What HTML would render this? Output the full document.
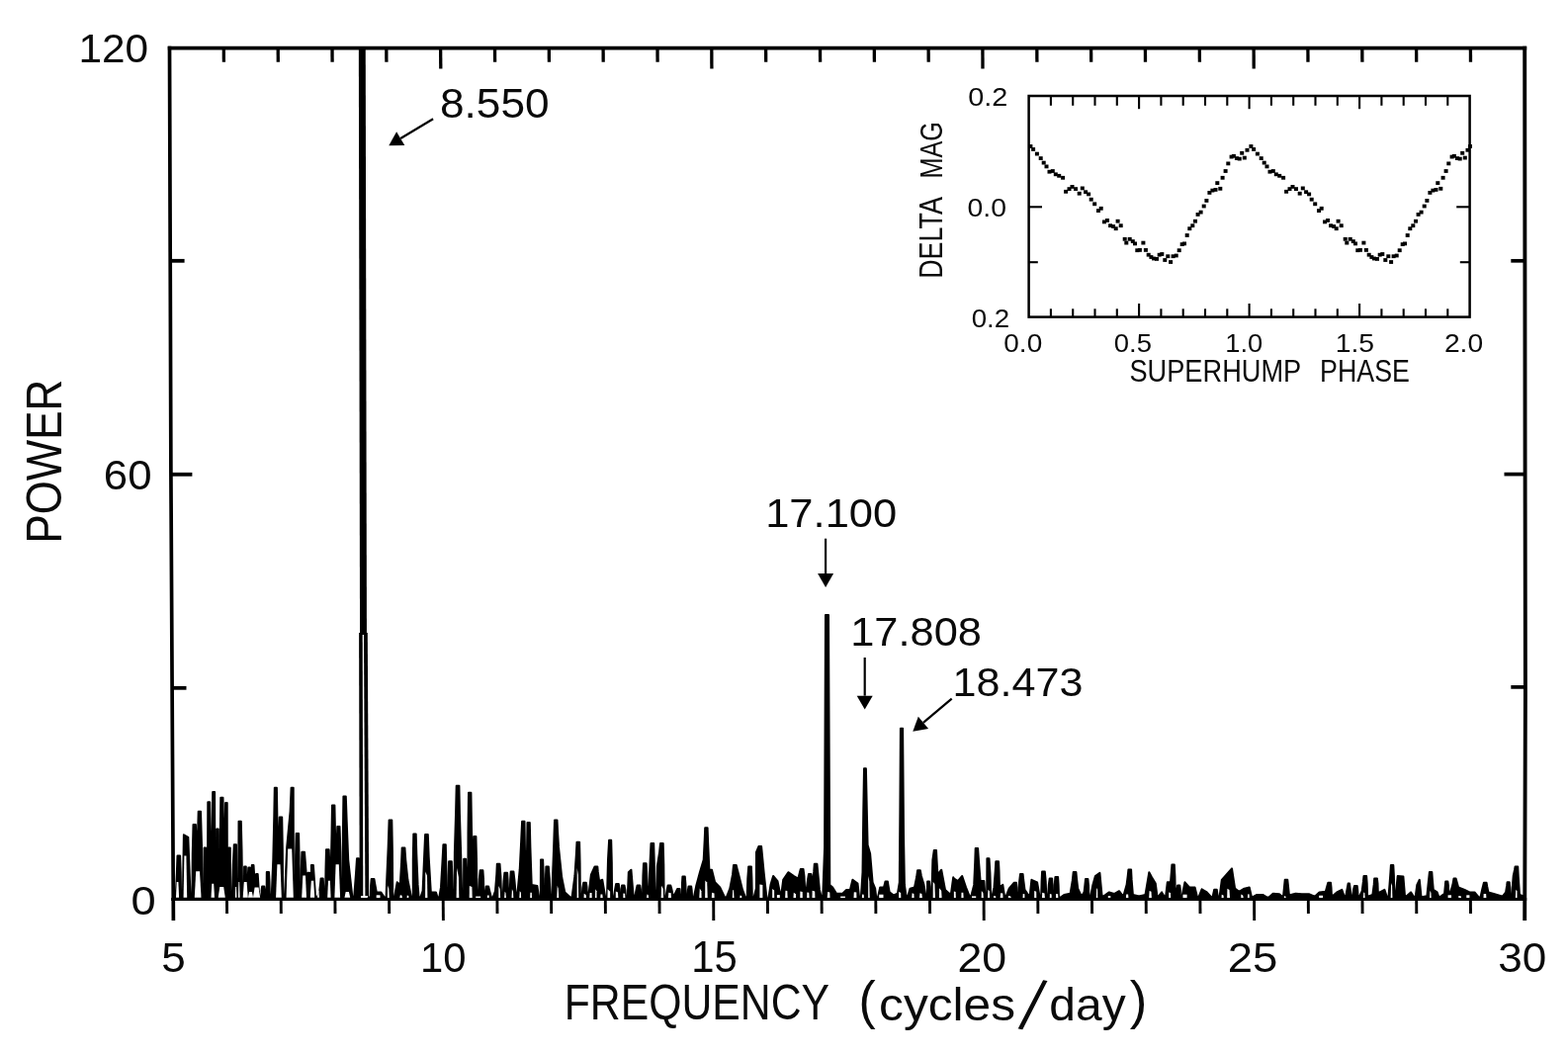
<!DOCTYPE html>
<html lang="en"><head><meta charset="utf-8"><title>Power spectrum</title>
<style>html,body{margin:0;padding:0;background:#fff}svg{display:block}text{font-family:"Liberation Sans",sans-serif;fill:#0a0a0a}</style></head><body>
<svg width="1586" height="1067" viewBox="0 0 1586 1067">
<rect width="1586" height="1067" fill="#fff"/>
<g stroke="#000" stroke-linecap="butt" fill="none">
<line x1="169.8" y1="48.6" x2="1544.2" y2="48.6" stroke-width="3.9"/>
<line x1="173.2" y1="909.5" x2="1544.2" y2="909.5" stroke-width="3.2"/>
<polyline points="171.5,46.7 172.9,478 175.4,931" stroke-width="3.7"/>
<polyline points="1542.2,46.7 1542.6,478 1542.9,700 1542.2,931" stroke-width="3.9"/>
<line x1="226.3" y1="48" x2="226.4" y2="62.8" stroke-width="3.3"/>
<line x1="281.2" y1="48" x2="281.3" y2="62.8" stroke-width="3.3"/>
<line x1="336.0" y1="48" x2="336.1" y2="62.8" stroke-width="3.3"/>
<line x1="390.8" y1="48" x2="390.9" y2="62.8" stroke-width="3.3"/>
<line x1="445.6" y1="48" x2="445.8" y2="69.6" stroke-width="3.3"/>
<line x1="500.5" y1="48" x2="500.6" y2="62.8" stroke-width="3.3"/>
<line x1="555.3" y1="48" x2="555.4" y2="62.8" stroke-width="3.3"/>
<line x1="610.1" y1="48" x2="610.2" y2="62.8" stroke-width="3.3"/>
<line x1="665.0" y1="48" x2="665.1" y2="62.8" stroke-width="3.3"/>
<line x1="719.8" y1="48" x2="719.9" y2="69.6" stroke-width="3.3"/>
<line x1="774.6" y1="48" x2="774.7" y2="62.8" stroke-width="3.3"/>
<line x1="829.5" y1="48" x2="829.6" y2="62.8" stroke-width="3.3"/>
<line x1="884.3" y1="48" x2="884.4" y2="62.8" stroke-width="3.3"/>
<line x1="939.1" y1="48" x2="939.2" y2="62.8" stroke-width="3.3"/>
<line x1="993.9" y1="48" x2="994.0" y2="69.6" stroke-width="3.3"/>
<line x1="1048.8" y1="48" x2="1048.9" y2="62.8" stroke-width="3.3"/>
<line x1="1103.6" y1="48" x2="1103.7" y2="62.8" stroke-width="3.3"/>
<line x1="1158.4" y1="48" x2="1158.5" y2="62.8" stroke-width="3.3"/>
<line x1="1213.3" y1="48" x2="1213.4" y2="62.8" stroke-width="3.3"/>
<line x1="1268.1" y1="48" x2="1268.2" y2="69.6" stroke-width="3.3"/>
<line x1="1322.9" y1="48" x2="1323.0" y2="62.8" stroke-width="3.3"/>
<line x1="1377.8" y1="48" x2="1377.9" y2="62.8" stroke-width="3.3"/>
<line x1="1432.6" y1="48" x2="1432.7" y2="62.8" stroke-width="3.3"/>
<line x1="1487.4" y1="48" x2="1487.5" y2="62.8" stroke-width="3.3"/>
<line x1="229.5" y1="910" x2="229.6" y2="924.0" stroke-width="2.9"/>
<line x1="284.2" y1="910" x2="284.3" y2="924.0" stroke-width="2.9"/>
<line x1="338.9" y1="910" x2="339.0" y2="924.0" stroke-width="2.9"/>
<line x1="393.6" y1="910" x2="393.7" y2="924.0" stroke-width="2.9"/>
<line x1="448.2" y1="910" x2="448.4" y2="931.0" stroke-width="2.9"/>
<line x1="502.9" y1="910" x2="503.0" y2="924.0" stroke-width="2.9"/>
<line x1="557.6" y1="910" x2="557.7" y2="924.0" stroke-width="2.9"/>
<line x1="612.3" y1="910" x2="612.4" y2="924.0" stroke-width="2.9"/>
<line x1="667.0" y1="910" x2="667.1" y2="924.0" stroke-width="2.9"/>
<line x1="721.7" y1="910" x2="721.8" y2="931.0" stroke-width="2.9"/>
<line x1="776.4" y1="910" x2="776.5" y2="924.0" stroke-width="2.9"/>
<line x1="831.1" y1="910" x2="831.2" y2="924.0" stroke-width="2.9"/>
<line x1="885.8" y1="910" x2="885.9" y2="924.0" stroke-width="2.9"/>
<line x1="940.5" y1="910" x2="940.6" y2="924.0" stroke-width="2.9"/>
<line x1="995.1" y1="910" x2="995.2" y2="931.0" stroke-width="2.9"/>
<line x1="1049.8" y1="910" x2="1049.9" y2="924.0" stroke-width="2.9"/>
<line x1="1104.5" y1="910" x2="1104.6" y2="924.0" stroke-width="2.9"/>
<line x1="1159.2" y1="910" x2="1159.3" y2="924.0" stroke-width="2.9"/>
<line x1="1213.9" y1="910" x2="1214.0" y2="924.0" stroke-width="2.9"/>
<line x1="1268.6" y1="910" x2="1268.7" y2="931.0" stroke-width="2.9"/>
<line x1="1323.3" y1="910" x2="1323.4" y2="924.0" stroke-width="2.9"/>
<line x1="1378.0" y1="910" x2="1378.1" y2="924.0" stroke-width="2.9"/>
<line x1="1432.7" y1="910" x2="1432.8" y2="924.0" stroke-width="2.9"/>
<line x1="1487.4" y1="910" x2="1487.5" y2="924.0" stroke-width="2.9"/>
<line x1="172.4" y1="263.8" x2="186.6" y2="263.8" stroke-width="3.8"/>
<line x1="1528.3" y1="263.8" x2="1542.5" y2="263.8" stroke-width="3.7"/>
<line x1="173.4" y1="479.8" x2="194.4" y2="479.8" stroke-width="3.8"/>
<line x1="1521.5" y1="479.6" x2="1542.5" y2="479.6" stroke-width="3.7"/>
<line x1="174.3" y1="695.8" x2="188.5" y2="695.8" stroke-width="3.8"/>
<line x1="1528.3" y1="694.9" x2="1542.5" y2="694.9" stroke-width="3.7"/>
</g>
<polygon points="175.0,905.0 177.7,907.5 178.9,882.1 179.5,865.6 182.1,865.6 182.7,882.1 183.1,907.5 184.9,907.5 185.9,844.3 190.3,846.8 192.6,907.5 194.4,907.5 194.8,863.1 195.5,834.0 197.9,834.0 198.4,847.4 199.3,868.3 200.2,839.4 200.7,820.7 203.0,820.7 204.0,855.1 204.6,907.5 206.4,907.5 206.6,857.4 208.1,857.4 208.1,906.2 209.9,906.2 210.3,811.2 212.2,811.2 212.7,844.4 213.7,894.9 214.7,838.3 215.2,801.1 217.1,801.1 217.5,906.9 219.3,906.9 219.3,838.4 220.7,838.4 220.8,902.4 222.6,902.4 222.8,844.8 223.3,806.8 225.5,806.8 226.0,836.7 227.0,882.2 228.1,811.9 229.7,811.9 229.9,899.9 231.7,899.9 231.4,857.4 232.8,857.4 233.0,907.5 234.8,907.5 235.8,875.2 236.8,854.2 239.0,854.2 239.4,907.5 241.2,907.5 241.5,830.8 243.8,830.8 244.5,858.7 245.1,901.2 246.9,901.2 247.1,876.4 248.8,876.4 249.1,898.6 250.9,898.6 250.8,885.7 251.3,877.6 252.9,877.6 252.9,905.0 254.7,905.0 254.8,875.1 256.5,875.1 257.0,882.7 258.0,894.9 259.1,884.0 260.7,884.0 261.8,901.2 262.8,907.5 264.6,907.5 264.6,900.7 265.1,896.6 267.3,896.6 267.8,900.7 267.8,907.5 269.6,907.5 269.8,882.1 272.0,882.1 272.5,891.9 272.9,907.5 274.7,907.5 276.3,869.6 277.3,825.5 277.8,796.7 279.9,796.7 280.4,828.6 281.4,877.1 282.3,846.4 282.8,826.4 285.2,826.4 285.8,859.1 286.2,908.8 288.0,908.8 290.2,856.9 293.6,820.5 294.6,796.7 296.7,796.7 296.9,898.6 298.7,898.6 299.1,864.9 299.7,842.9 302.1,842.9 302.6,867.9 302.6,906.2 304.4,906.2 304.8,879.3 305.4,861.8 308.0,861.8 309.0,874.7 310.5,894.9 311.6,882.7 313.2,882.7 313.4,907.5 315.2,907.5 314.9,875.1 316.9,875.1 317.8,887.8 319.1,907.5 320.9,907.5 323.1,902.4 324.1,893.7 324.6,888.4 326.7,888.4 327.2,896.2 327.3,908.8 329.1,908.8 329.5,878.8 330.0,859.3 332.7,859.3 333.2,871.7 334.5,891.1 335.5,844.8 336.0,814.4 338.4,814.4 338.9,838.2 340.2,874.6 341.3,835.9 343.5,835.9 344.4,861.7 345.0,901.2 346.8,901.2 346.9,843.5 347.4,805.5 349.8,805.5 350.7,830.8 352.2,869.6 356.4,907.5 358.2,907.5 360.0,883.6 361.0,868.2 363.0,868.2 363.9,894.9 364.0,907.0 364.0,909.6 175.0,909.6" fill="#000" stroke="#000" stroke-width="2.0" stroke-linejoin="round"/>
<polygon points="372.8,907.0 373.0,907.5 374.8,907.5 375.1,896.1 375.7,889.0 378.4,889.0 379.3,894.1 380.8,902.4 385.2,902.4 388.8,907.5 390.6,907.5 390.9,897.4 392.7,856.4 393.6,829.6 396.3,829.6 396.9,860.4 397.2,907.5 399.0,907.5 401.7,892.3 404.8,894.9 406.1,872.1 406.7,857.4 409.4,857.4 410.3,870.1 412.4,889.8 416.0,907.5 417.8,907.5 417.8,868.8 418.3,843.5 420.7,843.5 421.3,863.7 422.6,894.9 423.6,907.5 425.4,907.5 427.6,901.2 429.1,866.6 430.1,844.1 432.8,844.1 433.7,867.1 435.8,902.4 440.9,902.4 442.5,907.5 444.3,907.5 446.0,897.4 447.5,871.2 448.4,854.2 450.8,854.2 451.3,875.2 451.4,907.5 453.2,907.5 453.6,885.5 454.1,871.3 456.8,871.3 457.3,885.5 457.7,907.5 459.5,907.5 459.9,862.0 461.1,821.4 461.7,794.8 464.4,794.8 464.9,822.4 466.2,864.5 467.2,907.5 469.0,907.5 469.2,868.8 471.1,868.8 471.6,881.9 471.6,902.4 473.4,902.4 473.5,841.7 474.0,801.7 476.4,801.7 477.0,838.7 478.2,894.9 479.3,846.0 481.4,846.0 482.0,868.8 482.4,903.7 484.2,903.7 484.8,889.3 485.7,880.2 488.4,880.2 489.0,888.8 489.3,902.4 491.1,902.4 491.7,896.6 494.1,896.6 495.1,900.7 496.9,907.5 498.7,907.5 501.0,901.2 502.3,884.5 502.8,873.8 505.5,873.8 506.4,886.0 507.0,905.0 508.8,905.0 509.5,891.3 510.4,882.7 513.1,882.7 513.6,889.8 514.0,901.2 515.8,901.2 516.2,889.0 516.7,881.4 519.4,881.4 520.4,890.0 521.6,903.7 523.4,903.7 525.7,879.7 527.2,850.1 528.1,830.8 530.5,830.8 531.0,861.2 531.1,907.5 532.9,907.5 533.0,862.0 533.5,832.1 535.8,832.1 536.4,856.9 537.7,894.9 543.4,896.1 545.0,907.5 546.8,907.5 547.0,869.4 549.1,869.4 549.7,884.4 550.1,907.5 551.9,907.5 551.9,888.5 552.4,876.4 554.8,876.4 555.8,888.5 556.4,907.5 558.2,907.5 560.0,860.4 561.0,829.6 563.5,829.6 564.0,840.2 565.0,856.9 568.2,887.3 571.3,902.4 576.8,907.5 578.6,907.5 581.4,886.0 582.8,865.1 583.5,851.7 586.1,851.7 586.6,873.2 586.9,906.2 588.7,906.2 589.3,897.9 590.2,892.8 592.9,892.8 593.5,896.9 593.8,903.7 595.6,903.7 597.9,884.7 601.6,876.4 604.3,876.4 604.8,881.9 606.1,891.1 609.3,889.8 612.2,907.5 614.0,907.5 615.0,869.6 616.1,849.8 618.2,849.8 618.8,872.6 619.1,907.5 620.9,907.5 622.2,899.2 623.1,894.1 625.8,894.1 626.4,898.6 626.7,906.2 628.5,906.2 628.6,899.4 629.1,895.4 631.5,895.4 632.4,899.9 633.0,907.5 634.8,907.5 635.8,882.2 638.4,879.7 640.6,906.2 642.4,906.2 643.7,899.4 644.6,895.4 647.3,895.4 647.9,899.4 648.2,906.2 650.0,906.2 650.4,886.1 651.0,873.2 653.6,873.2 654.2,883.6 654.5,899.9 656.3,899.9 657.6,871.4 658.5,853.0 661.2,853.0 661.8,873.5 662.1,905.0 663.9,905.0 664.9,875.9 667.1,861.8 668.0,853.0 670.7,853.0 671.3,874.5 671.6,907.5 673.4,907.5 674.7,899.9 675.6,895.4 678.3,895.4 679.3,898.9 680.5,905.0 682.3,905.0 685.1,899.1 687.5,899.1 688.1,907.5 689.9,907.5 689.9,894.6 690.4,886.5 692.8,886.5 693.4,894.1 693.8,906.2 695.6,906.2 695.9,900.2 696.5,896.6 699.2,896.6 699.7,900.7 700.1,907.5 701.9,907.5 704.2,896.1 707.9,882.2 711.7,869.6 712.7,849.8 713.2,837.2 715.6,837.2 716.2,853.9 717.4,879.7 720.0,879.7 723.1,892.3 728.2,897.4 733.0,907.5 734.8,907.5 738.3,898.6 741.1,884.2 742.0,875.1 744.7,875.1 745.6,878.7 747.2,884.7 751.0,899.9 753.9,907.5 755.7,907.5 756.3,888.5 757.2,876.4 759.9,876.4 760.4,888.5 760.8,907.5 762.6,907.5 764.9,898.6 765.0,862.0 767.4,856.1 770.1,856.1 771.1,866.3 772.6,882.2 775.5,908.8 777.3,908.8 779.5,894.9 782.1,886.0 786.5,891.1 788.8,902.4 790.6,902.4 792.2,889.8 797.3,882.2 803.0,886.0 807.4,888.5 808.9,882.5 809.8,878.9 812.5,878.9 813.5,886.5 814.1,898.6 815.9,898.6 817.1,889.5 818.0,884.0 820.5,884.0 821.0,888.0 821.9,894.9 823.2,881.9 823.8,873.8 826.4,873.8 827.4,884.0 828.9,899.9 830.5,906.2 832.3,906.2 834.1,856.9 835.0,621.9 838.0,621.9 839.3,894.9 842.2,897.4 846.0,903.7 852.3,903.7 856.1,899.9 859.9,899.9 862.4,889.8 867.5,893.6 869.1,907.5 870.9,907.5 872.5,882.2 873.3,819.0 874.0,777.2 875.9,777.2 876.8,819.0 877.6,854.4 880.1,863.2 882.6,892.3 885.2,898.6 886.2,907.5 888.0,907.5 890.2,897.4 894.0,897.4 895.5,891.6 897.9,891.6 898.5,895.6 899.7,902.4 903.3,905.0 905.1,905.0 907.9,903.7 909.8,892.3 910.4,819.0 910.9,736.7 913.1,736.7 914.0,844.3 914.9,894.9 916.5,906.2 918.3,906.2 920.6,898.6 925.0,897.4 927.2,886.8 928.1,880.2 930.8,880.2 931.8,885.7 934.5,894.9 936.1,905.0 937.9,905.0 938.1,891.6 940.0,891.6 940.5,896.6 940.6,905.0 942.4,905.0 943.4,869.6 944.3,863.5 944.8,859.9 947.0,859.9 947.5,869.6 948.4,884.7 952.2,879.7 956.0,899.9 960.2,903.7 962.0,903.7 964.2,887.3 965.0,888.5 968.8,891.1 973.2,886.0 977.0,897.4 980.5,906.2 982.3,906.2 985.2,894.9 986.2,872.5 986.7,858.0 989.1,858.0 990.0,870.9 991.6,891.1 995.4,891.1 996.4,906.2 998.2,906.2 998.4,868.2 1000.5,868.2 1001.4,882.6 1002.1,905.0 1003.9,905.0 1005.5,897.4 1006.7,881.4 1007.3,871.3 1010.0,871.3 1010.5,880.9 1010.9,896.1 1012.7,896.1 1014.3,894.9 1016.0,906.2 1017.8,906.2 1020.7,898.6 1025.6,892.8 1028.0,892.8 1028.5,897.9 1028.6,906.2 1030.4,906.2 1031.0,892.6 1032.0,884.0 1034.6,884.0 1035.2,890.0 1036.5,899.9 1040.0,905.0 1041.8,905.0 1043.4,889.8 1049.1,892.3 1051.4,906.2 1053.2,906.2 1053.6,891.1 1054.1,881.4 1056.8,881.4 1057.7,891.1 1058.3,906.2 1060.1,906.2 1060.8,895.2 1061.7,888.4 1064.1,888.4 1064.6,895.2 1064.7,906.2 1066.5,906.2 1066.8,894.5 1067.4,887.1 1070.1,887.1 1070.6,895.0 1071.0,907.5 1072.8,907.5 1076.3,905.0 1082.6,903.7 1084.8,890.4 1085.7,882.1 1088.4,882.1 1089.0,888.4 1090.2,898.6 1093.1,905.0 1094.9,905.0 1096.6,902.4 1097.5,894.1 1098.0,889.0 1100.4,889.0 1101.0,895.6 1101.4,906.2 1103.2,906.2 1105.4,894.9 1107.9,886.0 1112.4,882.8 1114.6,906.2 1116.4,906.2 1121.9,902.4 1126.0,903.7 1127.8,903.7 1132.0,901.2 1134.9,905.0 1136.7,905.0 1139.6,894.9 1140.8,885.4 1141.4,879.5 1144.1,879.5 1144.6,889.4 1145.9,905.0 1151.3,906.2 1153.1,906.2 1158.5,905.0 1162.3,882.2 1165.0,887.3 1168.8,893.6 1170.4,906.2 1172.2,906.2 1175.1,902.4 1177.4,906.2 1179.2,906.2 1180.8,892.3 1184.0,892.3 1184.9,881.3 1185.4,874.5 1187.8,874.5 1188.4,886.4 1188.8,905.0 1190.6,905.0 1190.6,898.9 1191.1,895.4 1193.3,895.4 1193.8,899.4 1193.8,906.2 1195.6,906.2 1198.5,892.3 1203.0,897.4 1208.6,897.4 1210.9,906.9 1212.7,906.9 1215.6,899.3 1220.7,902.4 1224.8,906.9 1226.6,906.9 1228.2,899.8 1230.8,899.8 1231.8,906.9 1233.6,906.9 1235.8,889.8 1240.9,884.1 1246.0,878.4 1249.1,898.6 1252.7,901.2 1254.5,901.2 1258.6,898.6 1263.7,897.4 1265.9,906.9 1267.7,906.9 1271.3,905.0 1277.6,905.0 1281.7,907.5 1283.5,907.5 1287.7,903.7 1294.0,904.3 1296.3,906.2 1298.1,906.2 1299.7,889.8 1302.3,889.8 1303.9,905.0 1305.7,905.0 1310.5,903.7 1316.8,904.3 1324.4,904.3 1328.6,906.2 1330.4,906.2 1334.5,902.4 1340.8,901.8 1343.3,892.8 1346.0,892.8 1346.5,897.6 1346.9,905.6 1348.7,905.6 1352.2,902.4 1357.3,899.9 1359.5,906.2 1361.3,906.2 1363.6,893.6 1365.0,893.6 1366.6,906.2 1368.4,906.2 1369.0,899.8 1370.0,896.0 1372.7,896.0 1373.2,899.8 1373.6,906.2 1375.4,906.2 1377.7,901.2 1378.9,891.7 1379.5,885.9 1382.1,885.9 1382.7,893.7 1383.1,906.2 1384.9,906.2 1388.4,905.0 1389.7,894.7 1390.2,888.4 1392.9,888.4 1393.5,893.7 1393.8,902.4 1395.6,902.4 1400.4,899.9 1402.7,906.9 1404.5,906.9 1405.5,894.9 1406.4,882.7 1406.9,875.1 1409.3,875.1 1409.9,885.7 1410.3,902.4 1412.1,902.4 1413.7,886.0 1419.4,886.6 1421.0,906.2 1422.8,906.2 1427.0,902.4 1429.9,906.9 1431.7,906.9 1433.3,894.9 1435.8,889.8 1437.5,906.9 1439.3,906.9 1443.4,906.2 1444.9,891.4 1445.9,882.1 1448.3,882.1 1448.8,888.9 1449.8,899.9 1453.6,902.4 1455.2,906.9 1457.0,906.9 1461.1,903.7 1462.2,891.6 1464.4,891.6 1464.9,895.6 1465.3,902.4 1467.1,902.4 1469.4,894.9 1470.5,888.4 1472.6,888.4 1475.1,897.4 1481.4,899.9 1486.4,902.4 1491.5,902.4 1495.7,907.5 1497.5,907.5 1499.1,899.9 1500.9,892.8 1503.6,892.8 1504.2,896.4 1505.4,902.4 1511.7,904.3 1518.4,906.2 1520.2,906.2 1523.1,902.4 1524.1,896.0 1524.6,892.2 1526.7,892.2 1527.2,897.5 1527.3,906.2 1529.1,906.2 1530.7,886.0 1532.0,879.9 1532.6,876.4 1535.2,876.4 1535.8,887.5 1537.0,905.0 1540.8,906.2 1542.1,908.8 1541.0,909.6 372.8,909.6" fill="#000" stroke="#000" stroke-width="2.0" stroke-linejoin="round"/>
<g fill="#fff">
<path d="M178.0,907.7 L178.7,891.9 L180.4,891.9 L181.1,907.7 Z"/>
<path d="M185.6,907.7 L186.4,865.4 L188.4,865.4 L189.2,907.7 Z"/>
<path d="M196.8,907.7 L198.2,881.2 L202.0,881.2 L203.5,907.7 Z"/>
<path d="M213.5,907.7 L214.3,893.8 L216.2,893.8 L217.0,907.7 Z"/>
<path d="M220.7,907.7 L222.3,897.0 L226.2,897.0 L227.8,907.7 Z"/>
<path d="M237.9,907.7 L238.2,897.0 L239.1,897.0 L239.4,907.7 Z"/>
<path d="M241.0,907.7 L241.4,891.9 L242.2,891.9 L242.6,907.7 Z"/>
<path d="M245.7,907.7 L246.8,891.9 L249.6,891.9 L250.8,907.7 Z"/>
<path d="M251.0,907.7 L252.1,902.0 L254.9,902.0 L256.0,907.7 Z"/>
<path d="M256.0,907.7 L257.6,897.6 L261.6,897.6 L263.1,907.7 Z"/>
<path d="M279.1,907.7 L280.4,874.3 L283.5,874.3 L284.8,907.7 Z"/>
<path d="M289.6,907.7 L291.2,858.5 L295.2,858.5 L296.8,907.7 Z"/>
<path d="M305.2,907.7 L306.3,885.6 L309.0,885.6 L310.0,907.7 Z"/>
<path d="M313.8,907.7 L314.8,890.7 L317.2,890.7 L318.2,907.7 Z"/>
<path d="M321.1,907.7 L321.5,900.8 L322.5,900.8 L322.9,907.7 Z"/>
<path d="M331.2,907.7 L332.0,890.7 L333.9,890.7 L334.6,907.7 Z"/>
<path d="M338.4,907.7 L339.6,874.3 L342.8,874.3 L344.1,907.7 Z"/>
<path d="M348.5,907.7 L349.7,902.0 L352.9,902.0 L354.2,907.7 Z"/>
<rect x="380.7" y="905.3" width="3.8" height="2.7"/>
<path d="M391.9,908 L392.2,895.4 L393.3,898.8 L393.7,908 Z"/>
<path d="M404.3,908 L404.8,905.3 L406.4,905.6 L406.9,908 Z"/>
<path d="M411.6,908 L411.8,905.4 L413.3,906.1 L413.3,908 Z"/>
<path d="M430.1,908 L430.3,881.4 L432.0,885.7 L432.4,908 Z"/>
<path d="M461.6,908 L462.1,878.0 L463.9,887.0 L464.3,908 Z"/>
<path d="M474.7,908 L474.8,896.1 L477.4,896.9 L477.7,908 Z"/>
<rect x="481.2" y="906.6" width="4.9" height="1.4"/>
<path d="M492.9,908 L493.0,905.5 L494.6,905.6 L494.6,908 Z"/>
<path d="M504.3,908 L504.3,895.9 L505.7,899.1 L506.1,908 Z"/>
<path d="M510.1,908 L510.6,901.7 L511.5,903.0 L511.9,908 Z"/>
<path d="M517.5,908 L517.9,899.3 L519.0,901.7 L519.3,908 Z"/>
<path d="M525.3,908 L525.7,901.3 L526.9,902.7 L527.1,908 Z"/>
<path d="M536.2,908 L536.4,902.7 L537.8,902.8 L538.0,908 Z"/>
<path d="M563.3,908 L563.7,895.7 L564.7,898.7 L565.2,908 Z"/>
<path d="M583.6,908 L583.7,878.0 L584.8,884.7 L585.2,908 Z"/>
<path d="M590.6,908 L590.7,903.8 L592.6,904.9 L593.0,908 Z"/>
<path d="M596.3,908 L596.6,902.9 L598.5,903.1 L598.7,908 Z"/>
<path d="M602.0,908 L602.2,899.2 L603.5,901.3 L603.5,908 Z"/>
<path d="M607.3,908 L607.5,904.4 L609.3,904.5 L609.7,908 Z"/>
<path d="M614.5,908 L614.6,899.3 L617.1,901.8 L617.1,908 Z"/>
<path d="M622.8,908 L622.8,901.5 L625.0,902.5 L625.3,908 Z"/>
<path d="M630.4,908 L630.4,903.4 L632.1,903.8 L632.4,908 Z"/>
<path d="M654.0,908 L654.5,904.5 L655.6,905.1 L656.1,908 Z"/>
<path d="M668.7,908 L669.0,895.7 L670.8,899.1 L671.1,908 Z"/>
<path d="M675.9,908 L676.3,902.7 L678.7,903.2 L678.9,908 Z"/>
<path d="M707.3,908 L707.8,898.4 L709.4,901.3 L709.6,908 Z"/>
<path d="M713.2,908 L713.3,890.6 L715.2,892.4 L715.7,908 Z"/>
<path d="M719.8,908 L720.1,902.7 L722.5,903.6 L722.6,908 Z"/>
<path d="M740.8,908 L741.2,899.9 L742.1,900.6 L742.5,908 Z"/>
<path d="M748.3,908 L748.6,905.4 L750.1,906.0 L750.3,908 Z"/>
<path d="M768.4,908 L768.4,894.6 L771.4,895.1 L771.4,908 Z"/>
<path d="M781.2,908 L781.2,899.0 L783.1,900.5 L783.2,908 Z"/>
<rect x="785.9" y="905.1" width="2.9" height="2.9"/>
<path d="M794.2,908 L794.5,900.7 L796.3,901.1 L796.7,908 Z"/>
<path d="M802.5,908 L802.8,902.7 L805.0,904.3 L805.1,908 Z"/>
<path d="M809.3,908 L809.4,901.4 L811.7,902.0 L811.8,908 Z"/>
<path d="M816.2,908 L816.4,902.6 L818.2,902.7 L818.6,908 Z"/>
<path d="M821.5,908 L821.6,900.8 L824.2,901.6 L824.4,908 Z"/>
<path d="M836.7,908 L837.2,901.9 L839.3,902.5 L839.5,908 Z"/>
<rect x="850.2" y="906.6" width="4.7" height="1.4"/>
<path d="M863.5,908 L863.8,902.2 L866.3,902.4 L866.4,908 Z"/>
<path d="M871.9,908 L872.1,904.5 L873.7,904.8 L873.9,908 Z"/>
<path d="M878.2,908 L878.2,885.9 L879.3,891.4 L879.7,908 Z"/>
<rect x="889.2" y="904.7" width="4.3" height="3.3"/>
<path d="M909.1,908 L909.1,902.1 L911.2,902.9 L911.3,908 Z"/>
<path d="M922.3,908 L922.6,903.2 L924.4,904.1 L924.6,908 Z"/>
<path d="M930.0,908 L930.5,903.2 L932.4,903.9 L932.9,908 Z"/>
<path d="M943.7,908 L943.7,891.7 L945.4,894.1 L945.9,908 Z"/>
<path d="M949.9,908 L950.1,898.2 L952.2,901.0 L952.6,908 Z"/>
<path d="M964.9,908 L964.9,901.5 L966.6,901.9 L966.8,908 Z"/>
<path d="M972.4,908 L972.5,902.7 L974.3,902.8 L974.6,908 Z"/>
<rect x="983.0" y="906.4" width="4.2" height="1.6"/>
<path d="M992.7,908 L992.8,901.1 L994.4,902.9 L994.8,908 Z"/>
<path d="M999.1,908 L999.4,899.8 L1000.8,901.3 L1001.0,908 Z"/>
<path d="M1005.0,908 L1005.1,906.0 L1007.0,906.2 L1007.3,908 Z"/>
<path d="M1011.7,908 L1012.1,903.2 L1014.3,903.5 L1014.5,908 Z"/>
<path d="M1019.8,908 L1020.0,905.9 L1022.2,906.4 L1022.7,908 Z"/>
<path d="M1034.5,908 L1034.7,904.1 L1036.4,904.3 L1036.4,908 Z"/>
<path d="M1046.2,908 L1046.2,901.0 L1048.2,901.7 L1048.3,908 Z"/>
<path d="M1054.0,908 L1054.2,902.7 L1056.5,903.5 L1056.9,908 Z"/>
<path d="M1061.8,908 L1061.9,904.0 L1063.6,904.5 L1063.6,908 Z"/>
<path d="M1068.0,908 L1068.1,904.0 L1070.2,904.2 L1070.3,908 Z"/>
<path d="M1108.8,908 L1109.2,898.1 L1110.2,899.7 L1110.3,908 Z"/>
<rect x="1120.8" y="906.1" width="2.5" height="1.9"/>
<path d="M1138.9,908 L1139.2,904.4 L1141.1,904.4 L1141.4,908 Z"/>
<path d="M1162.2,908 L1162.6,901.1 L1164.5,901.7 L1164.9,908 Z"/>
<path d="M1182.2,908 L1182.2,902.5 L1184.0,903.1 L1184.2,908 Z"/>
<rect x="1196.5" y="904.7" width="4.1" height="3.3"/>
<path d="M1235.6,908 L1235.7,904.7 L1237.5,905.6 L1237.7,908 Z"/>
<path d="M1241.2,908 L1241.4,898.7 L1243.5,899.9 L1244.0,908 Z"/>
<path d="M1255.3,908 L1255.3,904.6 L1257.2,905.5 L1257.7,908 Z"/>
<path d="M1261.9,908 L1262.2,904.3 L1263.6,904.4 L1263.7,908 Z"/>
<path d="M1298.8,908 L1298.9,906.3 L1300.3,906.6 L1300.7,908 Z"/>
<rect x="1334.2" y="905.7" width="3.8" height="2.3"/>
<path d="M1378.9,908 L1379.3,902.3 L1380.4,903.5 L1380.6,908 Z"/>
<path d="M1406.7,908 L1407.1,892.9 L1408.1,895.8 L1408.4,908 Z"/>
<path d="M1446.1,908 L1446.4,900.7 L1447.4,902.7 L1447.7,908 Z"/>
<rect x="1464.6" y="905.3" width="3.4" height="2.7"/>
<path d="M1475.3,908 L1475.3,906.0 L1477.6,906.3 L1478.0,908 Z"/>
<rect x="1483.3" y="905.3" width="3.1" height="2.7"/>
<path d="M1500.5,908 L1500.7,904.0 L1503.1,904.1 L1503.4,908 Z"/>
<path d="M1532.9,908 L1533.2,899.8 L1534.5,901.5 L1534.5,908 Z"/>
</g>
<line x1="366.3" y1="48" x2="367.5" y2="642" stroke="#000" stroke-width="6.9"/>
<line x1="365.5" y1="906" x2="364.9" y2="640" stroke="#000" stroke-width="3.6"/>
<line x1="371.3" y1="906" x2="369.9" y2="640" stroke="#000" stroke-width="3.8"/>
<text transform="translate(79.42,63.49) scale(1.0269,1)" font-size="41.27">120</text>
<text transform="translate(104.81,494.98) scale(1.0472,1)" font-size="41.83">60</text>
<text transform="translate(132.39,924.59) scale(1.1006,1)" font-size="41.13">0</text>
<text transform="translate(163.34,983.07) scale(1.0132,1)" font-size="43.43">5</text>
<text transform="translate(424.97,983.07) scale(0.9699,1)" font-size="43.10">10</text>
<text transform="translate(699.16,983.06) scale(0.9596,1)" font-size="43.57">15</text>
<text transform="translate(968.47,983.07) scale(1.0402,1)" font-size="42.96">20</text>
<text transform="translate(1241.73,983.07) scale(1.0590,1)" font-size="42.96">25</text>
<text transform="translate(1515.14,983.07) scale(1.0290,1)" font-size="42.82">30</text>
<text transform="translate(445.01,119.17) scale(1.0249,1)" font-size="43.10">8.550</text>
<line x1="438.1" y1="120.2" x2="405.2" y2="140.0" stroke="#000" stroke-width="2.2"/><polygon points="393.3,147.2 401.1,133.2 409.3,146.9" fill="#000"/>
<text transform="translate(774.14,532.79) scale(1.0513,1)" font-size="41.41">17.100</text>
<line x1="835.1" y1="544.7" x2="835.1" y2="580.0" stroke="#000" stroke-width="2.2"/><polygon points="835.1,593.9 827.1,580.0 843.1,580.0" fill="#000"/>
<text transform="translate(860.24,652.79) scale(1.0553,1)" font-size="41.13">17.808</text>
<line x1="874.7" y1="665.0" x2="874.7" y2="703.7" stroke="#000" stroke-width="2.2"/><polygon points="874.7,717.6 866.7,703.7 882.7,703.7" fill="#000"/>
<text transform="translate(963.57,704.49) scale(1.0451,1)" font-size="41.27">18.473</text>
<line x1="962.7" y1="706.7" x2="933.9" y2="730.9" stroke="#000" stroke-width="2.2"/><polygon points="923.3,739.8 928.8,724.7 939.1,737.0" fill="#000"/>
<text><tspan x="570.78" y="1031.00" font-size="49.28" textLength="268.22" lengthAdjust="spacingAndGlyphs">FREQUENCY</tspan> <tspan x="868.60" y="1030.16" font-size="54.01" textLength="17.22" lengthAdjust="spacingAndGlyphs">(</tspan><tspan x="889.06" y="1031.62" font-size="47.06" textLength="138.04" lengthAdjust="spacingAndGlyphs">cycles</tspan><tspan x="1028.95" y="1040.11" font-size="74.33" rotate="12.0" stroke="#fff" stroke-width="1.1">/</tspan><tspan x="1061.38" y="1031.62" font-size="47.06" textLength="77.23" lengthAdjust="spacingAndGlyphs">day</tspan><tspan x="1142.87" y="1030.16" font-size="54.01" textLength="17.55" lengthAdjust="spacingAndGlyphs">)</tspan></text>
<text transform="translate(62.30,549.61) rotate(-90) scale(0.8753,1)" font-size="50.14">POWER</text>
<g stroke="#000" fill="none" stroke-width="2.5">
<rect x="1040.6" y="97" width="446" height="223.6"/>
<line x1="1062.9" y1="97" x2="1062.9" y2="106.8" stroke-width="2.1"/>
<line x1="1062.9" y1="320.6" x2="1062.9" y2="312.3" stroke-width="2.1"/>
<line x1="1085.2" y1="97" x2="1085.2" y2="106.8" stroke-width="2.1"/>
<line x1="1085.2" y1="320.6" x2="1085.2" y2="312.3" stroke-width="2.1"/>
<line x1="1107.5" y1="97" x2="1107.5" y2="106.8" stroke-width="2.1"/>
<line x1="1107.5" y1="320.6" x2="1107.5" y2="312.3" stroke-width="2.1"/>
<line x1="1129.8" y1="97" x2="1129.8" y2="106.8" stroke-width="2.1"/>
<line x1="1129.8" y1="320.6" x2="1129.8" y2="312.3" stroke-width="2.1"/>
<line x1="1152.1" y1="97" x2="1152.1" y2="110.2" stroke-width="2.1"/>
<line x1="1152.1" y1="320.6" x2="1152.1" y2="307.0" stroke-width="2.1"/>
<line x1="1174.4" y1="97" x2="1174.4" y2="106.8" stroke-width="2.1"/>
<line x1="1174.4" y1="320.6" x2="1174.4" y2="312.3" stroke-width="2.1"/>
<line x1="1196.7" y1="97" x2="1196.7" y2="106.8" stroke-width="2.1"/>
<line x1="1196.7" y1="320.6" x2="1196.7" y2="312.3" stroke-width="2.1"/>
<line x1="1219.0" y1="97" x2="1219.0" y2="106.8" stroke-width="2.1"/>
<line x1="1219.0" y1="320.6" x2="1219.0" y2="312.3" stroke-width="2.1"/>
<line x1="1241.3" y1="97" x2="1241.3" y2="106.8" stroke-width="2.1"/>
<line x1="1241.3" y1="320.6" x2="1241.3" y2="312.3" stroke-width="2.1"/>
<line x1="1263.6" y1="97" x2="1263.6" y2="110.2" stroke-width="2.1"/>
<line x1="1263.6" y1="320.6" x2="1263.6" y2="307.0" stroke-width="2.1"/>
<line x1="1285.9" y1="97" x2="1285.9" y2="106.8" stroke-width="2.1"/>
<line x1="1285.9" y1="320.6" x2="1285.9" y2="312.3" stroke-width="2.1"/>
<line x1="1308.2" y1="97" x2="1308.2" y2="106.8" stroke-width="2.1"/>
<line x1="1308.2" y1="320.6" x2="1308.2" y2="312.3" stroke-width="2.1"/>
<line x1="1330.5" y1="97" x2="1330.5" y2="106.8" stroke-width="2.1"/>
<line x1="1330.5" y1="320.6" x2="1330.5" y2="312.3" stroke-width="2.1"/>
<line x1="1352.8" y1="97" x2="1352.8" y2="106.8" stroke-width="2.1"/>
<line x1="1352.8" y1="320.6" x2="1352.8" y2="312.3" stroke-width="2.1"/>
<line x1="1375.1" y1="97" x2="1375.1" y2="110.2" stroke-width="2.1"/>
<line x1="1375.1" y1="320.6" x2="1375.1" y2="307.0" stroke-width="2.1"/>
<line x1="1397.4" y1="97" x2="1397.4" y2="106.8" stroke-width="2.1"/>
<line x1="1397.4" y1="320.6" x2="1397.4" y2="312.3" stroke-width="2.1"/>
<line x1="1419.7" y1="97" x2="1419.7" y2="106.8" stroke-width="2.1"/>
<line x1="1419.7" y1="320.6" x2="1419.7" y2="312.3" stroke-width="2.1"/>
<line x1="1442.0" y1="97" x2="1442.0" y2="106.8" stroke-width="2.1"/>
<line x1="1442.0" y1="320.6" x2="1442.0" y2="312.3" stroke-width="2.1"/>
<line x1="1464.3" y1="97" x2="1464.3" y2="106.8" stroke-width="2.1"/>
<line x1="1464.3" y1="320.6" x2="1464.3" y2="312.3" stroke-width="2.1"/>
<g stroke-width="2.1"><line x1="1040.6" y1="209.3" x2="1054" y2="209.3"/><line x1="1473.2" y1="209.3" x2="1486.6" y2="209.3"/>
<line x1="1040.6" y1="265.2" x2="1049.8" y2="265.2"/><line x1="1476.8" y1="265.2" x2="1486.6" y2="265.2"/></g>
</g>
<g fill="#000">
<rect x="1040.4" y="146.1" width="4.0" height="3.8"/>
<rect x="1263.4" y="146.1" width="4.0" height="3.8"/>
<rect x="1043.1" y="149.1" width="4.0" height="3.8"/>
<rect x="1266.1" y="149.1" width="4.0" height="3.8"/>
<rect x="1046.9" y="153.7" width="4.0" height="3.8"/>
<rect x="1269.9" y="153.7" width="4.0" height="3.8"/>
<rect x="1050.7" y="158.2" width="4.0" height="3.8"/>
<rect x="1273.7" y="158.2" width="4.0" height="3.8"/>
<rect x="1053.7" y="162.7" width="4.0" height="3.8"/>
<rect x="1276.7" y="162.7" width="4.0" height="3.8"/>
<rect x="1056.5" y="166.5" width="4.0" height="3.8"/>
<rect x="1279.5" y="166.5" width="4.0" height="3.8"/>
<rect x="1059.5" y="171.8" width="4.0" height="3.8"/>
<rect x="1282.5" y="171.8" width="4.0" height="3.8"/>
<rect x="1062.8" y="171.1" width="4.0" height="3.8"/>
<rect x="1285.8" y="171.1" width="4.0" height="3.8"/>
<rect x="1065.8" y="174.4" width="4.0" height="3.8"/>
<rect x="1288.8" y="174.4" width="4.0" height="3.8"/>
<rect x="1069.2" y="175.9" width="4.0" height="3.8"/>
<rect x="1292.2" y="175.9" width="4.0" height="3.8"/>
<rect x="1073.1" y="177.9" width="4.0" height="3.8"/>
<rect x="1296.1" y="177.9" width="4.0" height="3.8"/>
<rect x="1076.1" y="191.9" width="4.0" height="3.8"/>
<rect x="1299.1" y="191.9" width="4.0" height="3.8"/>
<rect x="1079.5" y="189.2" width="4.0" height="3.8"/>
<rect x="1302.5" y="189.2" width="4.0" height="3.8"/>
<rect x="1082.5" y="187.0" width="4.0" height="3.8"/>
<rect x="1305.5" y="187.0" width="4.0" height="3.8"/>
<rect x="1086.0" y="189.2" width="4.0" height="3.8"/>
<rect x="1309.0" y="189.2" width="4.0" height="3.8"/>
<rect x="1089.7" y="193.8" width="4.0" height="3.8"/>
<rect x="1312.7" y="193.8" width="4.0" height="3.8"/>
<rect x="1092.8" y="188.5" width="4.0" height="3.8"/>
<rect x="1315.8" y="188.5" width="4.0" height="3.8"/>
<rect x="1096.1" y="192.3" width="4.0" height="3.8"/>
<rect x="1319.1" y="192.3" width="4.0" height="3.8"/>
<rect x="1099.1" y="194.5" width="4.0" height="3.8"/>
<rect x="1322.1" y="194.5" width="4.0" height="3.8"/>
<rect x="1101.7" y="199.8" width="4.0" height="3.8"/>
<rect x="1324.7" y="199.8" width="4.0" height="3.8"/>
<rect x="1105.2" y="204.4" width="4.0" height="3.8"/>
<rect x="1328.2" y="204.4" width="4.0" height="3.8"/>
<rect x="1109.0" y="211.2" width="4.0" height="3.8"/>
<rect x="1332.0" y="211.2" width="4.0" height="3.8"/>
<rect x="1111.7" y="208.9" width="4.0" height="3.8"/>
<rect x="1334.7" y="208.9" width="4.0" height="3.8"/>
<rect x="1115.0" y="222.5" width="4.0" height="3.8"/>
<rect x="1338.0" y="222.5" width="4.0" height="3.8"/>
<rect x="1118.0" y="221.0" width="4.0" height="3.8"/>
<rect x="1341.0" y="221.0" width="4.0" height="3.8"/>
<rect x="1121.1" y="226.3" width="4.0" height="3.8"/>
<rect x="1344.1" y="226.3" width="4.0" height="3.8"/>
<rect x="1124.1" y="227.1" width="4.0" height="3.8"/>
<rect x="1347.1" y="227.1" width="4.0" height="3.8"/>
<rect x="1126.7" y="229.3" width="4.0" height="3.8"/>
<rect x="1349.7" y="229.3" width="4.0" height="3.8"/>
<rect x="1128.6" y="221.8" width="4.0" height="3.8"/>
<rect x="1351.6" y="221.8" width="4.0" height="3.8"/>
<rect x="1131.7" y="226.3" width="4.0" height="3.8"/>
<rect x="1354.7" y="226.3" width="4.0" height="3.8"/>
<rect x="1135.7" y="239.9" width="4.0" height="3.8"/>
<rect x="1358.7" y="239.9" width="4.0" height="3.8"/>
<rect x="1137.3" y="243.7" width="4.0" height="3.8"/>
<rect x="1360.3" y="243.7" width="4.0" height="3.8"/>
<rect x="1140.7" y="239.9" width="4.0" height="3.8"/>
<rect x="1363.7" y="239.9" width="4.0" height="3.8"/>
<rect x="1143.8" y="242.2" width="4.0" height="3.8"/>
<rect x="1366.8" y="242.2" width="4.0" height="3.8"/>
<rect x="1146.0" y="244.5" width="4.0" height="3.8"/>
<rect x="1369.0" y="244.5" width="4.0" height="3.8"/>
<rect x="1148.3" y="251.3" width="4.0" height="3.8"/>
<rect x="1371.3" y="251.3" width="4.0" height="3.8"/>
<rect x="1150.9" y="251.0" width="4.0" height="3.8"/>
<rect x="1373.9" y="251.0" width="4.0" height="3.8"/>
<rect x="1154.4" y="243.7" width="4.0" height="3.8"/>
<rect x="1377.4" y="243.7" width="4.0" height="3.8"/>
<rect x="1156.9" y="251.0" width="4.0" height="3.8"/>
<rect x="1379.9" y="251.0" width="4.0" height="3.8"/>
<rect x="1159.7" y="255.8" width="4.0" height="3.8"/>
<rect x="1382.7" y="255.8" width="4.0" height="3.8"/>
<rect x="1162.4" y="258.1" width="4.0" height="3.8"/>
<rect x="1385.4" y="258.1" width="4.0" height="3.8"/>
<rect x="1165.0" y="259.6" width="4.0" height="3.8"/>
<rect x="1388.0" y="259.6" width="4.0" height="3.8"/>
<rect x="1168.0" y="260.0" width="4.0" height="3.8"/>
<rect x="1391.0" y="260.0" width="4.0" height="3.8"/>
<rect x="1170.7" y="255.8" width="4.0" height="3.8"/>
<rect x="1393.7" y="255.8" width="4.0" height="3.8"/>
<rect x="1173.3" y="255.1" width="4.0" height="3.8"/>
<rect x="1396.3" y="255.1" width="4.0" height="3.8"/>
<rect x="1176.3" y="261.1" width="4.0" height="3.8"/>
<rect x="1399.3" y="261.1" width="4.0" height="3.8"/>
<rect x="1179.3" y="257.3" width="4.0" height="3.8"/>
<rect x="1402.3" y="257.3" width="4.0" height="3.8"/>
<rect x="1182.1" y="263.1" width="4.0" height="3.8"/>
<rect x="1405.1" y="263.1" width="4.0" height="3.8"/>
<rect x="1184.6" y="257.3" width="4.0" height="3.8"/>
<rect x="1407.6" y="257.3" width="4.0" height="3.8"/>
<rect x="1187.7" y="256.6" width="4.0" height="3.8"/>
<rect x="1410.7" y="256.6" width="4.0" height="3.8"/>
<rect x="1190.7" y="251.3" width="4.0" height="3.8"/>
<rect x="1413.7" y="251.3" width="4.0" height="3.8"/>
<rect x="1193.7" y="245.2" width="4.0" height="3.8"/>
<rect x="1416.7" y="245.2" width="4.0" height="3.8"/>
<rect x="1196.0" y="244.5" width="4.0" height="3.8"/>
<rect x="1419.0" y="244.5" width="4.0" height="3.8"/>
<rect x="1198.7" y="236.1" width="4.0" height="3.8"/>
<rect x="1421.7" y="236.1" width="4.0" height="3.8"/>
<rect x="1201.3" y="229.3" width="4.0" height="3.8"/>
<rect x="1424.3" y="229.3" width="4.0" height="3.8"/>
<rect x="1204.3" y="226.3" width="4.0" height="3.8"/>
<rect x="1427.3" y="226.3" width="4.0" height="3.8"/>
<rect x="1207.0" y="221.8" width="4.0" height="3.8"/>
<rect x="1430.0" y="221.8" width="4.0" height="3.8"/>
<rect x="1209.6" y="215.0" width="4.0" height="3.8"/>
<rect x="1432.6" y="215.0" width="4.0" height="3.8"/>
<rect x="1212.6" y="212.7" width="4.0" height="3.8"/>
<rect x="1435.6" y="212.7" width="4.0" height="3.8"/>
<rect x="1215.7" y="206.6" width="4.0" height="3.8"/>
<rect x="1438.7" y="206.6" width="4.0" height="3.8"/>
<rect x="1218.4" y="201.0" width="4.0" height="3.8"/>
<rect x="1441.4" y="201.0" width="4.0" height="3.8"/>
<rect x="1221.4" y="193.0" width="4.0" height="3.8"/>
<rect x="1444.4" y="193.0" width="4.0" height="3.8"/>
<rect x="1224.4" y="190.7" width="4.0" height="3.8"/>
<rect x="1447.4" y="190.7" width="4.0" height="3.8"/>
<rect x="1227.5" y="190.0" width="4.0" height="3.8"/>
<rect x="1450.5" y="190.0" width="4.0" height="3.8"/>
<rect x="1229.3" y="183.2" width="4.0" height="3.8"/>
<rect x="1452.3" y="183.2" width="4.0" height="3.8"/>
<rect x="1232.3" y="188.9" width="4.0" height="3.8"/>
<rect x="1455.3" y="188.9" width="4.0" height="3.8"/>
<rect x="1234.6" y="177.9" width="4.0" height="3.8"/>
<rect x="1457.6" y="177.9" width="4.0" height="3.8"/>
<rect x="1237.6" y="171.1" width="4.0" height="3.8"/>
<rect x="1460.6" y="171.1" width="4.0" height="3.8"/>
<rect x="1240.3" y="163.5" width="4.0" height="3.8"/>
<rect x="1463.3" y="163.5" width="4.0" height="3.8"/>
<rect x="1243.6" y="156.7" width="4.0" height="3.8"/>
<rect x="1466.6" y="156.7" width="4.0" height="3.8"/>
<rect x="1245.9" y="155.9" width="4.0" height="3.8"/>
<rect x="1468.9" y="155.9" width="4.0" height="3.8"/>
<rect x="1248.9" y="158.2" width="4.0" height="3.8"/>
<rect x="1471.9" y="158.2" width="4.0" height="3.8"/>
<rect x="1251.7" y="158.7" width="4.0" height="3.8"/>
<rect x="1474.7" y="158.7" width="4.0" height="3.8"/>
<rect x="1254.2" y="152.9" width="4.0" height="3.8"/>
<rect x="1477.2" y="152.9" width="4.0" height="3.8"/>
<rect x="1256.8" y="157.7" width="4.0" height="3.8"/>
<rect x="1479.8" y="157.7" width="4.0" height="3.8"/>
<rect x="1259.5" y="149.9" width="4.0" height="3.8"/>
<rect x="1482.5" y="149.9" width="4.0" height="3.8"/>
<rect x="1485.0" y="146.1" width="4.0" height="3.8"/>
</g>
<text transform="translate(979.25,106.75) scale(1.1378,1)" font-size="25.35">0.2</text>
<text transform="translate(978.56,218.75) scale(1.1201,1)" font-size="25.35">0.0</text>
<text transform="translate(982.69,330.55) scale(1.0863,1)" font-size="25.49">0.2</text>
<text transform="translate(1015.28,355.55) scale(1.1175,1)" font-size="25.07">0.0</text>
<text transform="translate(1126.80,355.55) scale(1.0961,1)" font-size="25.07">0.5</text>
<text transform="translate(1239.35,355.55) scale(1.0887,1)" font-size="25.07">1.0</text>
<text transform="translate(1350.67,355.55) scale(1.1165,1)" font-size="25.43">1.5</text>
<text transform="translate(1460.89,355.55) scale(1.1261,1)" font-size="25.07">2.0</text>
<text><tspan x="1142.48" y="386.29" font-size="30.99" textLength="173.71" lengthAdjust="spacingAndGlyphs">SUPERHUMP</tspan> <tspan x="1335.06" y="386.29" font-size="30.99" textLength="90.82" lengthAdjust="spacingAndGlyphs">PHASE</tspan></text>
<text transform="rotate(-90)"><tspan x="-281.85" y="952.90" font-size="32.90" textLength="82.68" lengthAdjust="spacingAndGlyphs">DELTA</tspan> <tspan x="-180.62" y="952.58" font-size="31.97" textLength="57.46" lengthAdjust="spacingAndGlyphs">MAG</tspan></text>
</svg></body></html>
